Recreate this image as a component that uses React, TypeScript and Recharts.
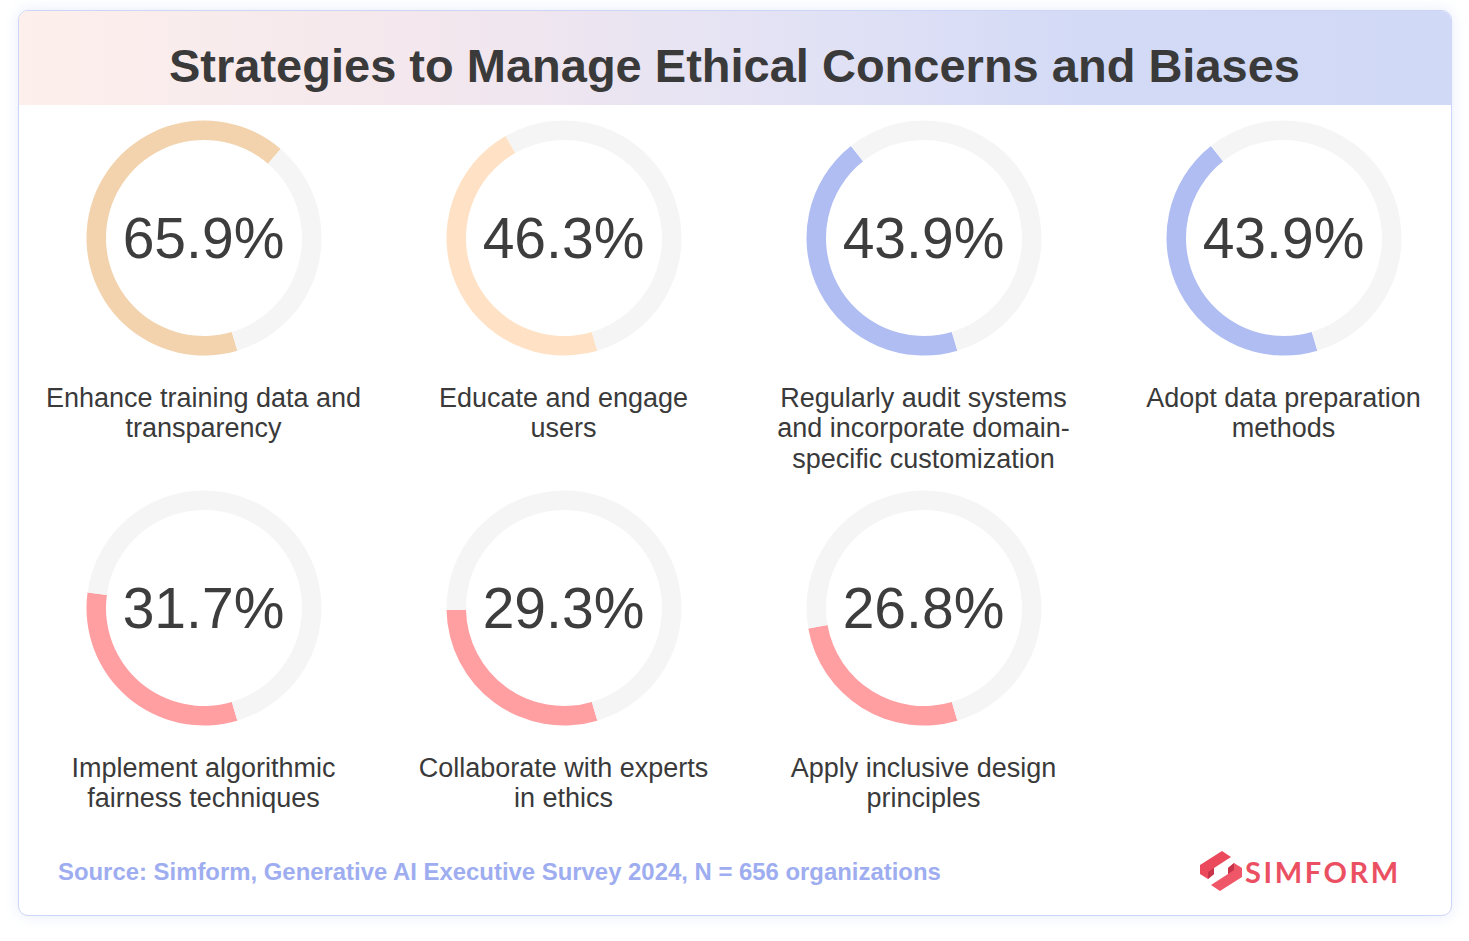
import { PieChart, Pie, Cell } from 'recharts';

const categories = [
  'Enhance training data and\ntransparency',
  'Educate and engage\nusers',
  'Regularly audit systems\nand incorporate domain-\nspecific customization',
  'Adopt data preparation\nmethods',
  'Implement algorithmic\nfairness techniques',
  'Collaborate with experts\nin ethics',
  'Apply inclusive design\nprinciples',
];

const values = [65.9, 46.3, 43.9, 43.9, 31.7, 29.3, 26.8];

const ringColors = ['#f2d3ad', '#ffe2c6', '#afbdf2', '#afbdf2', '#ff9fa2', '#ff9fa2', '#ff9fa2'];

const TRACK = '#f5f5f5';
const START_ANGLE = -73.5;

// grid layout of the donuts
const COL_X = [203.5, 563.5, 923.5, 1283.5];
const ROW_Y = [237.5, 607.5];
const OUTER = 117.5;
const INNER = 98;
const BOX = 250;

function Donut({ index }: { index: number }) {
  const cx = COL_X[index % 4];
  const cy = ROW_Y[Math.floor(index / 4)];
  const value = values[index];
  const data = [
    { name: 'value', value },
    { name: 'rest', value: 100 - value },
  ];
  return (
    <>
      <div style={{ position: 'absolute', left: cx - BOX / 2, top: cy - BOX / 2, width: BOX, height: BOX }}>
        <PieChart width={BOX} height={BOX} margin={{ top: 0, right: 0, bottom: 0, left: 0 }}>
          <Pie
            data={data}
            dataKey="value"
            cx={BOX / 2}
            cy={BOX / 2}
            innerRadius={INNER}
            outerRadius={OUTER}
            startAngle={START_ANGLE}
            endAngle={START_ANGLE - 360}
            stroke="none"
            isAnimationActive={false}
          >
            <Cell fill={ringColors[index]} />
            <Cell fill={TRACK} />
          </Pie>
        </PieChart>
      </div>
      <div
        style={{
          position: 'absolute',
          left: cx - 150,
          width: 300,
          top: cy - 27.5,
          textAlign: 'center',
          fontSize: 57,
          lineHeight: '57px',
          color: '#3d3d3d',
        }}
      >
        {value.toFixed(1)}%
      </div>
      <div
        style={{
          position: 'absolute',
          left: cx - 200,
          width: 400,
          top: cy + 145,
          textAlign: 'center',
          fontSize: 27,
          lineHeight: '30.5px',
          color: '#3a3a3a',
          whiteSpace: 'pre-line',
        }}
      >
        {categories[index]}
      </div>
    </>
  );
}

function Logo() {
  return (
    <svg style={{ position: 'absolute', left: 1195, top: 846, overflow: 'visible' }} width={215} height={50}>
      <g transform="translate(-1195,-846)">
        <polygon points="1222,851 1231,857 1214,868 1214,874 1208,879 1200,874 1200,865" fill="#ea4a5c" />
        <polygon points="1220,891 1211,885 1228,874 1228,868 1234,863 1242,868 1242,877" fill="#ef5769" />
        <polygon points="1214,868 1214,874 1208,879 1208,872" fill="#c7344a" />
        <polygon points="1228,874 1228,868 1234,863 1234,870" fill="#c7344a" />
        <text
          x={1245}
          y={883}
          fill="#eb5062"
          fontFamily="Lato, 'Open Sans', sans-serif"
          fontWeight={700}
          fontSize={29}
          letterSpacing={2.6}
        >
          SIMFORM
        </text>
      </g>
    </svg>
  );
}

export default function App() {
  return (
    <div
      style={{
        position: 'absolute',
        left: 0,
        top: 0,
        width: 1469,
        height: 941,
        background: '#ffffff',
        fontFamily: "'Liberation Sans', Arial, Helvetica, sans-serif",
        overflow: 'hidden',
      }}
    >
      {/* card */}
      <div
        style={{
          position: 'absolute',
          left: 18,
          top: 10,
          width: 1434,
          height: 906,
          boxSizing: 'border-box',
          border: '1.5px solid #cdd6f8',
          borderRadius: 10,
          boxShadow: '0 0 14px rgba(170, 185, 240, 0.28)',
          overflow: 'hidden',
          background: '#ffffff',
        }}
      >
        <div
          style={{
            position: 'absolute',
            left: 0,
            top: 0,
            right: 0,
            height: 94,
            background: 'linear-gradient(90deg, #fdefeb 0%, #f3e7ee 30%, #e2e2f5 55%, #d3daf6 75%, #d0d9f6 100%)',
          }}
        />
      </div>
      <div
        style={{
          position: 'absolute',
          left: 0,
          width: 1469,
          top: 42,
          textAlign: 'center',
          fontSize: 47,
          lineHeight: '47px',
          fontWeight: 700,
          color: '#3a3a3a',
        }}
      >
        Strategies to Manage Ethical Concerns and Biases
      </div>

      {values.map((_, i) => (
        <Donut key={i} index={i} />
      ))}

      <div
        style={{
          position: 'absolute',
          left: 58,
          top: 860,
          fontSize: 23.9,
          lineHeight: '24px',
          fontWeight: 700,
          color: '#9eadf0',
          whiteSpace: 'nowrap',
        }}
      >
        Source: Simform, Generative AI Executive Survey 2024, N = 656 organizations
      </div>
      <Logo />
    </div>
  );
}
